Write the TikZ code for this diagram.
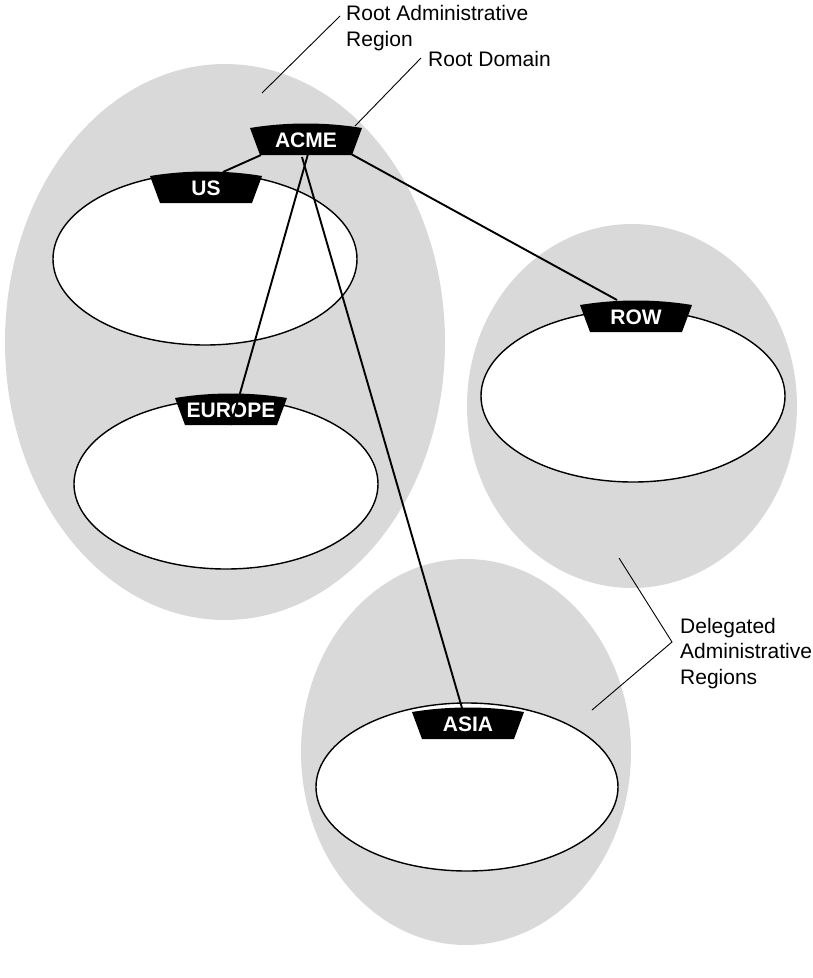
\documentclass[tikz,border=0pt]{standalone}
\usepackage{fontspec}
\setmainfont{Liberation Sans}
\begin{document}
\begin{tikzpicture}[x=1pt,y=-1pt,
  regionfill/.style={fill=regiongray},
  domainoval/.style={draw=black,line width=1.4pt,fill=white},
  tablabel/.style={text=white,font=\fontsize{21}{25}\selectfont\bfseries,inner sep=0pt,anchor=base},
  callout/.style={font=\fontsize{21}{25.5}\selectfont,inner sep=0pt,anchor=base west,align=left},
  link/.style={draw=black,line width=1.9pt},
  leader/.style={draw=black,line width=0.9pt}]
\definecolor{regiongray}{RGB}{217,217,217}
\useasboundingbox (0,0) rectangle (813,978);
\newcommand\dtab[4]{%
  \fill[black] (#2-56,#3-13) .. controls (#2-20,#3-19) and (#2+20,#3-19) .. (#2+56,#3-13)
     -- (#2+46,#3+14) -- (#2-46,#3+14) -- cycle;
  \node[tablabel] (#1) at (#2,#3+6) {#4};}
% administrative regions
\fill[regionfill] (225,342) ellipse [x radius=220, y radius=278];
\fill[regionfill] (632,406) ellipse [x radius=165, y radius=182];
\fill[regionfill] (466,752) ellipse [x radius=165, y radius=193];
% domains
\draw[domainoval] (205,259) ellipse [x radius=152, y radius=86];
\draw[domainoval] (226,484) ellipse [x radius=152, y radius=85];
\draw[domainoval] (633,396) ellipse [x radius=152, y radius=86];
\draw[domainoval] (467,787) ellipse [x radius=151, y radius=84];
% tabs
\dtab{acme}{306}{141}{ACME}
\dtab{us}{206}{189}{US}
\dtab{europe}{231}{411}{EUROPE}
\dtab{row}{636}{318}{ROW}
\dtab{asia}{468}{725}{ASIA}
% connector end points
\coordinate (acmeL) at (261,155);
\coordinate (acmeE) at (308,154);
\coordinate (acmeA) at (302,157);
\coordinate (acmeR) at (351,154);
\coordinate (usT) at (223,172);
\coordinate (europeT) at (231,425);
\coordinate (rowT) at (617,300);
\coordinate (asiaT) at (462,708);
\draw[link] (acmeL) -- (usT);
\draw[link] (acmeE) -- (europeT);
\draw[link] (acmeA) -- (asiaT);
\draw[link] (acmeR) -- (rowT);
% callouts (anchored at the baseline of the last line)
\node[callout] (rar) at (346,46) {Root Administrative\\Region};
\node[callout] (rd) at (428,66) {Root Domain};
\node[callout] (dar) at (680,684) {Delegated\\Administrative\\Regions};
\coordinate (rarA) at (340,16);
\coordinate (rarB) at (262,93);
\coordinate (rdA) at (421,58);
\coordinate (rdB) at (355,126);
\coordinate (darA) at (619,558);
\coordinate (darK) at (672,642);
\coordinate (darB) at (592,710);
\draw[leader] (rarA) -- (rarB);
\draw[leader] (rdA) -- (rdB);
\draw[leader] (darA) -- (darK) -- (darB);
\end{tikzpicture}
\end{document}
